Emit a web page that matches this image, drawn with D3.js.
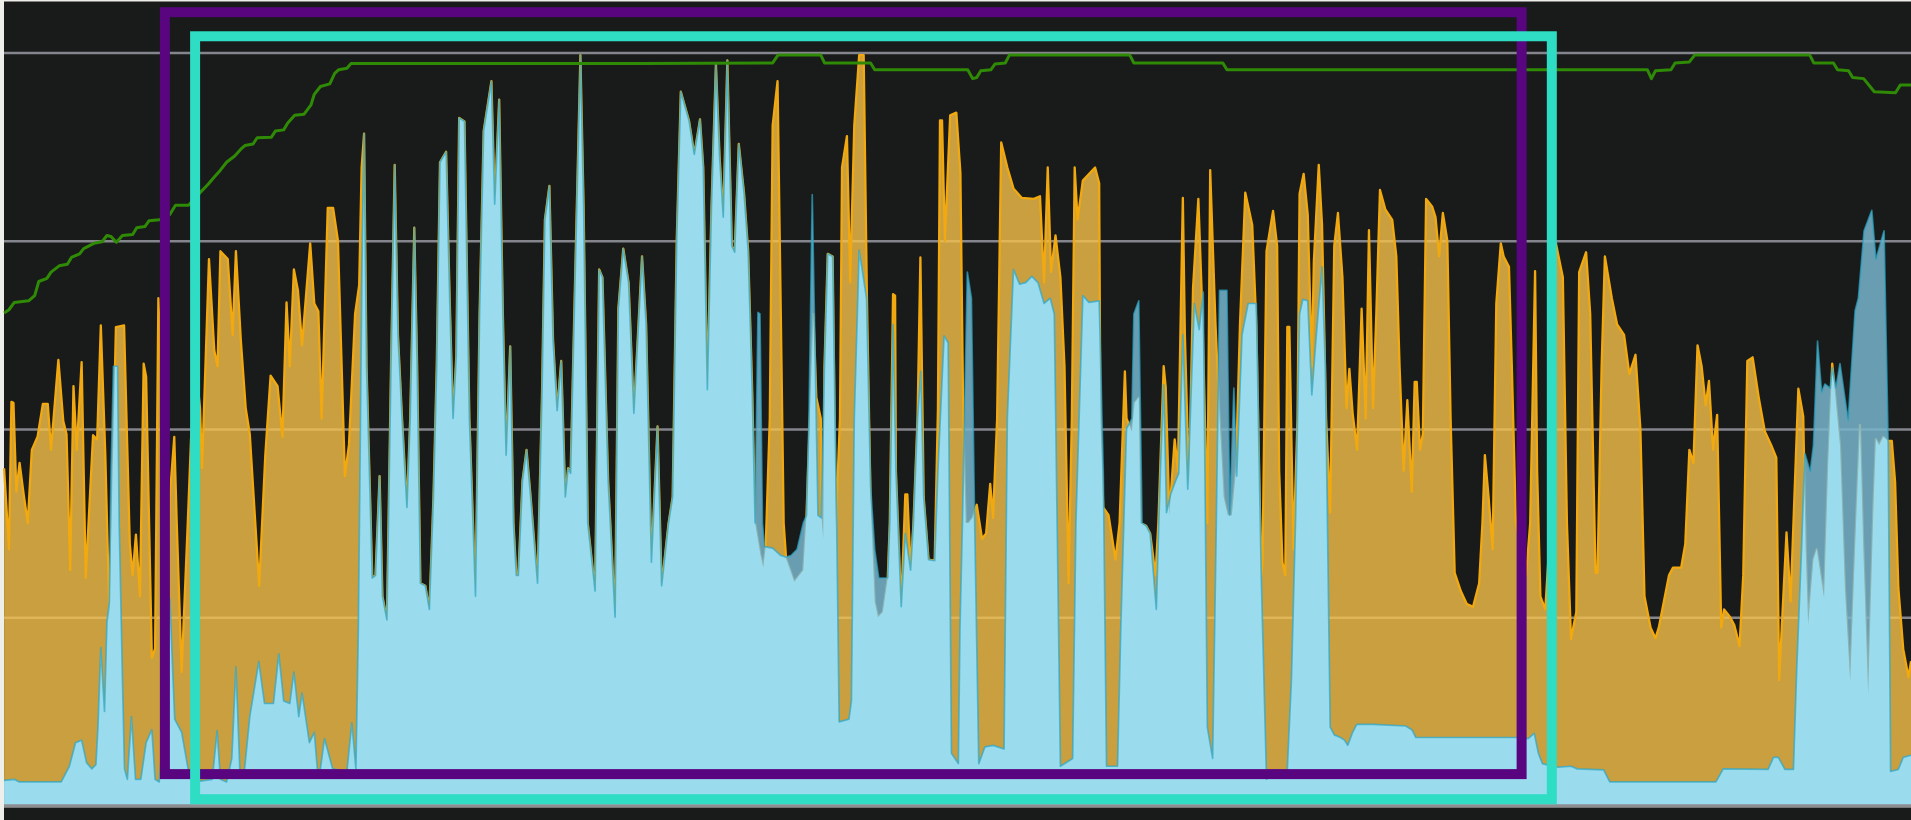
<!DOCTYPE html>
<html><head><meta charset="utf-8">
<script src="https://cdnjs.cloudflare.com/ajax/libs/d3/7.8.5/d3.min.js"></script>
<style>html,body{margin:0;padding:0;background:#eeeeea;overflow:hidden}svg{display:block}</style>
</head><body><svg id="c" width="1911" height="820"></svg>
<script>
// Samples are [time, depth]. Time is relative to the window it was read in.
const windowStarts = [0, 1568, 3114];
const gridValues = [0, 360, 720, 1080, 1440];
const fullLevel = 1541;
const read = (x, d) => [x, fullLevel - d];

const orangeA = [[10,895],[22,1050],[28,768],[33,770],[40,940],[48,885],[58,945],[68,1000],[78,860],[92,835],[105,772],[117,772],[125,860],[143,688],[155,805],[163,830],[172,1090],[180,738],[188,860],[200,692],[210,1105],[228,832],[238,840],[247,622],[258,870],[268,1180],[276,900],[284,625],[304,622],[318,1040],[325,1100],[333,1022],[343,1140],[352,695],[358,720],[372,1258],[380,1240],[388,570],[398,800],[410,1250],[416,950],[427,835],[433,1000],[445,1285],[460,1000],[468,840],[480,700],[490,780],[495,895],[512,495],[525,670],[533,700],[540,480],[558,495],[570,640],[578,480],[590,650],[602,780],[612,830],[635,1120],[650,870],[663,718],[680,738],[692,835],[702,578],[710,700],[720,515],[730,555],[740,660],[760,465],[770,580],[780,595],[788,800],[803,397],[816,397],[828,460],[845,910],[855,850],[870,600],[880,545],[886,320]];
const blueA = [[10,1492],[35,1490],[47,1495],[150,1495],[170,1465],[185,1420],[200,1415],[212,1458],[225,1470],[235,1462],[240,1390],[247,1238],[256,1360],[262,1190],[268,1150],[272,900],[278,700],[288,700],[292,1000],[300,1300],[305,1470],[312,1490],[322,1370],[332,1490],[345,1490],[358,1420],[372,1395],[380,1490],[390,1495],[400,1400],[416,1145],[428,1375],[445,1400],[462,1475],[478,1495],[520,1490],[532,1397],[540,1490],[555,1495],[568,1450],[578,1275],[588,1480],[598,1480],[612,1370],[634,1265],[648,1345],[670,1345],[683,1250],[695,1340],[710,1345],[720,1285],[732,1370],[740,1325],[758,1420],[770,1400],[778,1475],[785,1470],[795,1412],[815,1470],[850,1475],[862,1382],[872,1470],[878,1200],[882,900],[887,500]];
const sharedA = [[892,255],[898,700],[905,900],[912,1105],[920,1100],[930,910],[937,1140],[948,1185],[958,700],[967,315],[975,640],[985,800],[997,970],[1005,800],[1015,435],[1022,700],[1030,1115],[1042,1120],[1052,1165],[1062,950],[1070,700],[1078,310],[1093,290],[1102,580],[1110,800],[1118,680],[1125,225],[1138,232],[1150,800],[1165,1140],[1175,600],[1185,250],[1204,155],[1212,390],[1223,190],[1232,600],[1240,870],[1250,662],[1258,1000],[1265,1100],[1270,1100],[1280,920],[1290,860],[1300,950],[1317,1115],[1328,750],[1335,420],[1346,355],[1355,650],[1365,785],[1375,690],[1385,950],[1392,895],[1398,905],[1407,600],[1422,105],[1430,400],[1440,1000],[1458,1130],[1468,515],[1476,530],[1490,920],[1507,1180],[1515,590],[1527,475],[1540,540],[1553,790]];
const sharedB = [[5,490],[15,620],[28,1075],[43,815],[53,1120],[70,1000],[80,950],[90,460],[100,175],[120,230],[133,295],[147,228],[155,320],[165,745],[175,400],[186,122],[195,300],[204,415],[214,115],[225,470],[232,482],[242,275],[255,370],[265,480],[275,750],[282,1000]];
const orangeB = [[295,1060],[302,1085],[308,1045],[318,800],[325,240],[337,155],[345,600],[352,1000],[358,1068],[378,1112],[400,1090],[408,985],[416,800],[425,600],[432,760],[443,800],[445,990],[449,1030],[452,700],[460,485],[472,490],[480,1000],[490,800],[495,320],[507,260],[515,540],[525,240],[537,105],[548,105],[556,570],[565,960],[575,1150],[583,1180],[595,1170],[607,1105],[612,1000],[620,562],[625,565],[627,900],[640,1160],[650,945],[655,945],[663,1090],[670,1000],[680,800],[687,492],[695,950],[707,1070],[722,1072],[730,780],[735,230],[740,230],[747,460],[760,220],[775,215],[785,330],[792,800],[798,1000],[805,1000],[815,990],[825,965],[838,1030],[848,1020],[858,925],[865,990],[875,800],[885,272],[900,320],[915,360],[935,378],[965,380],[980,375],[990,540],[999,320],[1007,520],[1018,450],[1030,530],[1040,700],[1050,1115],[1058,800],[1065,320],[1072,420],[1085,345],[1115,320],[1125,350],[1128,800],[1135,970],[1148,985],[1165,1070],[1175,1000],[1188,710],[1192,800],[1205,825],[1212,770],[1222,760],[1226,1000],[1240,1005],[1250,1020],[1263,1100],[1270,1000],[1283,700],[1288,740],[1297,985],[1310,840],[1318,900],[1330,378],[1335,640],[1345,930],[1355,550],[1368,380],[1378,600],[1390,1000],[1397,325],[1410,620],[1420,800],[1430,950],[1440,985],[1450,985],[1460,900],[1470,620],[1483,368],[1500,430],[1510,620],[1522,1100],[1525,1080],[1535,480]];
const blueB = [[289,597],[294,600],[300,1000],[305,1045],[325,1048],[345,1062],[358,1065],[370,1062],[385,1050],[400,1000],[408,985],[414,800],[422,372],[430,720],[436,985],[444,990],[452,700],[460,485],[472,490],[482,1010],[488,1380],[512,1375],[518,1340],[525,800],[537,478],[555,570],[565,930],[575,1050],[585,1105],[607,1105],[612,1000],[620,620],[627,900],[640,1160],[650,1020],[663,1090],[670,1000],[680,800],[688,710],[695,950],[707,1070],[722,1072],[730,900],[745,642],[755,655],[763,1440],[780,1460],[784,1200],[790,1000],[802,520],[812,570],[820,1000],[830,1460],[845,1428],[865,1425],[892,1432],[900,800],[915,515],[930,543],[945,540],[960,528],[975,540],[990,580],[1005,570],[1015,600],[1022,1000],[1030,1465],[1060,1450],[1068,1000],[1085,565],[1100,578],[1125,575],[1135,900],[1143,1465],[1170,1465],[1178,1200],[1192,820],[1205,800],[1210,600],[1222,575],[1230,1000],[1240,1005],[1250,1020],[1265,1165],[1275,900],[1283,735],[1290,980],[1300,945],[1312,920],[1320,905],[1330,640],[1342,935],[1358,580],[1370,630],[1380,558],[1390,1390],[1403,1450],[1412,1000],[1420,555],[1438,555],[1445,985],[1455,742],[1462,910],[1475,640],[1490,580],[1510,580],[1522,1100],[1535,1490]];
const orangeC = [[5,403],[15,470],[20,900],[28,1075],[35,1100],[40,625],[45,625],[55,1050],[65,800],[70,370],[80,332],[90,410],[100,700],[105,500],[117,315],[125,430],[135,800],[145,980],[155,470],[164,407],[175,530],[185,780],[192,705],[200,790],[211,860],[222,590],[232,800],[240,440],[250,780],[258,600],[267,363],[280,400],[297,420],[307,490],[315,700],[325,900],[334,765],[345,940],[352,730],[357,730],[365,860],[372,830],[380,380],[395,395],[403,415],[412,490],[421,407],[432,460],[440,800],[450,1095],[465,1130],[480,1155],[495,1160],[510,1115],[518,1000],[524,870],[533,950],[543,1050],[552,580],[563,465],[570,490],[583,510],[590,700],[600,1000],[625,1100],[635,1000],[647,518],[652,900],[660,1140],[672,1165],[685,1000],[698,465],[715,530],[725,1000],[735,1222],[748,1170],[755,520],[772,482],[782,600],[795,1095],[800,1095],[810,700],[818,490],[835,570],[848,620],[865,640],[878,715],[893,678],[905,820],[915,1140],[930,1200],[942,1220],[950,1200],[975,1100],[985,1085],[1005,1085],[1015,1040],[1025,860],[1035,885],[1045,660],[1055,700],[1065,775],[1073,728],[1083,860],[1093,793],[1103,1200],[1110,1165],[1125,1180],[1135,1195],[1148,1235],[1157,1100],[1167,690],[1180,683],[1195,760],[1210,825],[1225,850],[1238,875],[1240,1000],[1245,1300],[1263,1018],[1273,1150],[1292,743],[1304,796],[1310,1050],[1316,1194],[1329,1069],[1337,1050],[1355,1143],[1365,890],[1375,695],[1394,851],[1406,1124],[1419,1303],[1431,1046],[1443,812],[1451,1046],[1463,1327],[1476,968],[1482,839],[1490,851],[1500,835],[1512,843],[1521,843],[1529,921],[1537,1124],[1549,1241],[1562,1295],[1568,1264]];
const blueC = [[0,1480],[35,1480],[40,1470],[50,1300],[60,1000],[70,600],[78,572],[90,575],[100,755],[110,650],[125,510],[133,700],[140,1100],[145,1390],[155,1405],[170,1410],[180,1415],[188,1425],[200,1400],[210,1385],[250,1385],[330,1388],[345,1395],[355,1410],[600,1410],[630,1412],[645,1402],[655,1440],[665,1460],[698,1467],[735,1465],[750,1470],[815,1472],[830,1495],[1090,1495],[1108,1470],[1218,1471],[1231,1448],[1243,1448],[1259,1471],[1280,1471],[1288,1280],[1300,1046],[1308,867],[1321,902],[1329,851],[1339,652],[1349,750],[1357,734],[1370,742],[1375,703],[1384,742],[1394,695],[1414,804],[1431,594],[1439,570],[1453,441],[1472,402],[1482,496],[1502,441],[1512,843],[1518,1475],[1537,1471],[1549,1448],[1568,1444]];
const greenA = [[10,598],[22,592],[35,578],[70,575],[85,565],[95,538],[115,532],[125,520],[145,508],[165,505],[175,492],[195,485],[205,475],[230,465],[250,462],[262,450],[272,452],[285,463],[300,450],[325,448],[335,435],[355,433],[365,422],[390,420],[416,410],[430,392],[462,392],[490,368],[510,352],[525,338],[540,325],[555,310],[575,298],[590,285],[600,278],[620,275],[630,263],[665,262],[675,250],[695,248],[705,235],[722,220],[745,218],[762,200],[770,180],[785,165],[808,160],[820,140],[830,133],[850,130],[860,121],[1560,121]];
const greenB = [[0,121],[325,120],[338,105],[443,105],[452,120],[565,120],[575,133],[803,133],[815,150],[825,148],[835,135],[860,133],[870,122],[895,120],[905,105],[1200,105],[1210,120],[1428,120],[1438,133],[1540,133]];
const greenC = [[0,133],[922,133],[932,150],[942,135],[980,133],[990,120],[1025,118],[1038,105],[1320,105],[1330,120],[1378,120],[1388,133],[1415,135],[1425,148],[1452,150],[1478,175],[1530,177],[1542,162],[1568,162]];
const purpleBox = [404, 3728, 61, 1518];
const tealBox = [478, 3802, 13, 1472];

const place = (rows, w) => rows.map(([t, d]) => { const p = read(t, d); return [p[0] + windowStarts[w], p[1]]; });
const orange = [...place(orangeA,0), ...place(sharedA,0), ...place(sharedB,1), ...place(orangeB,1), ...place(orangeC,2)];
const blue = [...place(blueA,0), ...place(sharedA,0), ...place(sharedB,1), ...place(blueB,1), ...place(blueC,2)];
const green = [...place(greenA,0), ...place(greenB,1), ...place(greenC,2)];

const W = 1911, H = 820;
const xs = d3.scaleLinear().domain([0, 4682]).range([0, W]);
const ys = d3.scaleLinear().domain([0, 1440]).range([806, 53]);
const svg = d3.select('#c');
svg.append('rect').attr('x',4).attr('y',1.5).attr('width',W-4).attr('height',H).attr('fill','#191b1a');
const g = svg.append('g').style('filter','blur(0.7px)');

const area = d3.area().x(d=>xs(d[0])).y0(ys(0)).y1(d=>ys(d[1]));
const line = d3.line().x(d=>xs(d[0])).y(d=>ys(d[1]));

g.selectAll('.grid').data(gridValues).join('line').attr('class','grid')
  .attr('x1',4).attr('x2',W).attr('y1',d=>ys(d)).attr('y2',d=>ys(d))
  .attr('stroke','#85858d').attr('stroke-width',2.6);

svg.append('clipPath').attr('id','underOrange').append('path').attr('d',area(orange));

g.append('path').attr('d',area(orange)).attr('fill','#f5c14a').attr('fill-opacity',0.8);
g.append('path').attr('d',line(orange)).attr('fill','none').attr('stroke','#f2a90f').attr('stroke-width',2.3).attr('stroke-linejoin','round');
g.append('path').attr('d',area(blue)).attr('fill','#78b4cd').attr('fill-opacity',0.85);
g.append('path').attr('d',area(blue)).attr('fill','#9adcee').attr('clip-path','url(#underOrange)');
g.append('path').attr('d',line(blue)).attr('fill','none').attr('stroke','#2ea6c6').attr('stroke-opacity',0.7).attr('stroke-width',1.7).attr('stroke-linejoin','round');
g.append('line').attr('x1',4).attr('x2',W).attr('y1',ys(0)).attr('y2',ys(0)).attr('stroke','#8d8d90').attr('stroke-width',3.6);
g.append('path').attr('d',line(green)).attr('fill','none').attr('stroke','#2f8a06').attr('stroke-width',3).attr('stroke-linejoin','round');

const box = (b, color) => g.append('rect')
  .attr('x',xs(b[0])).attr('y',ys(b[3])).attr('width',xs(b[1])-xs(b[0])).attr('height',ys(b[2])-ys(b[3]))
  .attr('fill','none').attr('stroke',color).attr('stroke-width',10);
box(purpleBox,'#58057f');
box(tealBox,'#2fdcc4');
</script></body></html>
